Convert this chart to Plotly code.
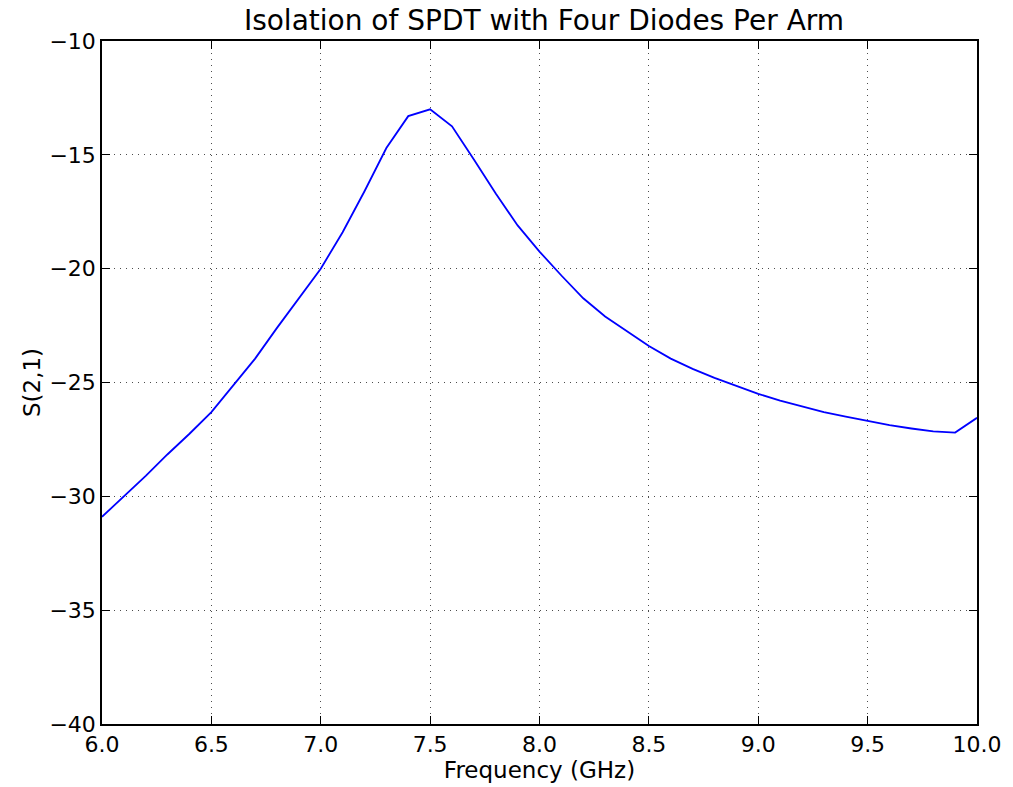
import plotly.graph_objects as go

freq = [6.0, 6.1, 6.2, 6.3, 6.4, 6.5, 6.6, 6.7, 6.8, 6.9,
        7.0, 7.1, 7.2, 7.3, 7.4, 7.5, 7.6, 7.7, 7.8, 7.9,
        8.0, 8.1, 8.2, 8.3, 8.4, 8.5, 8.6, 8.7, 8.8, 8.9,
        9.0, 9.1, 9.2, 9.3, 9.4, 9.5, 9.6, 9.7, 9.8, 9.9, 10.0]
s21 = [-30.9, -30.0, -29.1, -28.15, -27.25, -26.3, -25.15, -23.95, -22.6, -21.3,
       -20.0, -18.4, -16.6, -14.7, -13.3, -13.0, -13.75, -15.2, -16.7, -18.1,
       -19.25, -20.3, -21.3, -22.1, -22.75, -23.4, -23.95, -24.4, -24.8, -25.15,
       -25.5, -25.8, -26.05, -26.3, -26.5, -26.7, -26.87, -27.02, -27.15, -27.2, -26.55]

x_ticks = [6.0, 6.5, 7.0, 7.5, 8.0, 8.5, 9.0, 9.5, 10.0]
x_labels = ["6.0", "6.5", "7.0", "7.5", "8.0", "8.5", "9.0", "9.5", "10.0"]
y_ticks = [-40, -35, -30, -25, -20, -15, -10]
y_labels = ["\u221240", "\u221235", "\u221230", "\u221225", "\u221220", "\u221215", "\u221210"]

font = "DejaVu Sans, sans-serif"

fig = go.Figure()
fig.add_trace(go.Scatter(x=freq, y=s21, mode="lines",
                         line=dict(color="#0000ff", width=1.8),
                         showlegend=False, hoverinfo="skip"))

axis_common = dict(
    showline=True, linecolor="black", linewidth=1.5, mirror="ticks",
    ticks="inside", ticklen=8, tickwidth=1, tickcolor="black",
    showgrid=True, gridcolor="rgba(0,0,0,0.7)", gridwidth=1, griddash="1px,5px",
    zeroline=False, tickfont=dict(family=font, size=22, color="black"),
)

fig.update_xaxes(range=[6.0, 10.0], tickmode="array", tickvals=x_ticks, ticktext=x_labels,
                 title=dict(text="Frequency (GHz)", font=dict(family=font, size=23, color="black"), standoff=2),
                 **axis_common)
fig.update_yaxes(range=[-40, -10], tickmode="array", tickvals=y_ticks, ticktext=y_labels,
                 title=dict(text="S(2,1)", font=dict(family=font, size=23, color="black"), standoff=2),
                 **axis_common)

fig.update_layout(
    width=1013, height=787,
    margin=dict(l=102, r=27, t=41, b=62),
    paper_bgcolor="white", plot_bgcolor="white",
    title=dict(text="Isolation of SPDT with Four Diodes Per Arm",
               font=dict(family=font, size=28, color="black"),
               x=0.5 + (102 - 27) / 2 / 1013, xanchor="center",
               y=1 - 20 / 787, yanchor="middle", yref="container"),
)

fig.write_html("out.html")
